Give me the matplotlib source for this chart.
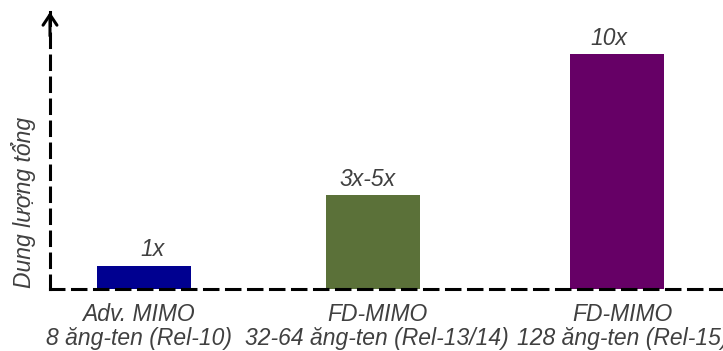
import matplotlib
matplotlib.use("Agg")
import matplotlib.pyplot as plt
import matplotlib.transforms as mtransforms

# Data
categories = ["Adv. MIMO\n8 ăng-ten (Rel-10)",
              "FD-MIMO\n32-64 ăng-ten (Rel-13/14)",
              "FD-MIMO\n128 ăng-ten (Rel-15)"]
capacity = [1, 4, 10]
value_labels = ["1x", "3x-5x", "10x"]
y_label = "Dung lượng tổng"

# Layout / style
positions = [0.0, 1.0, 2.066]
cat_dx = [-4, 3, 4]        # horizontal nudges of category labels (points)
val_dx = [6, -4, -6]       # horizontal nudges of value labels (points)
bar_colors = ["#000090", "#5B7139", "#660066"]
text_color = "#404040"
font = ["Liberation Sans", "DejaVu Sans"]
fs = 16.5

W, H = 723, 351
fig = plt.figure(figsize=(W / 100, H / 100), dpi=100)

# axes: left edge at x=50 px, baseline at y=289 px, top at y=12 px
ax_left, ax_bottom, ax_top = 50, 289, 12
ax = fig.add_axes([ax_left / W, (H - ax_bottom) / H, (W - ax_left) / W + 0.01,
                   (ax_bottom - ax_top) / H])

ax.bar(positions, capacity, width=0.41, color=bar_colors, zorder=1)

ax.set_xlim(-0.412, 2.56)
ax.set_ylim(0, 11.8)

for s in ["top", "right"]:
    ax.spines[s].set_visible(False)
for s in ["left", "bottom"]:
    sp = ax.spines[s]
    sp.set_linewidth(2.2)
    sp.set_linestyle((0, (4.4, 2.8)))
    sp.set_color("black")
    sp.set_zorder(3)

# arrow head at the top of the y axis
ax.annotate("", xy=(0, 1.0), xytext=(0, 1.0 - 24 / 277), xycoords="axes fraction",
            arrowprops=dict(arrowstyle="->,head_length=0.75,head_width=0.5",
                            lw=2.2, color="black", shrinkA=0, shrinkB=0),
            annotation_clip=False)

ax.set_yticks([])
ax.set_xticks([])

# two-line category labels below the baseline
xtrans = mtransforms.blended_transform_factory(ax.transData, ax.transAxes)
for x, cat, dx in zip(positions, categories, cat_dx):
    line1, line2 = cat.split("\n")
    for txt, dy in ((line1, -23.0), (line2, -40.3)):
        ax.annotate(txt, xy=(x, 0), xycoords=xtrans, xytext=(dx, dy),
                    textcoords="offset points", ha="center", va="baseline",
                    fontsize=fs, style="italic", color=text_color, family=font,
                    annotation_clip=False)

for x, v, lab, dx in zip(positions, capacity, value_labels, val_dx):
    ax.annotate(lab, xy=(x, v), xytext=(dx, 6.8), textcoords="offset points",
                ha="center", va="baseline", fontsize=fs, style="italic",
                color=text_color, family=font)

fig.text(24 / W, 1 - 202 / H, y_label, rotation=90, ha="center", va="center",
         fontsize=fs, style="italic", color=text_color, family=font)

fig.savefig("out.png", dpi=100)
